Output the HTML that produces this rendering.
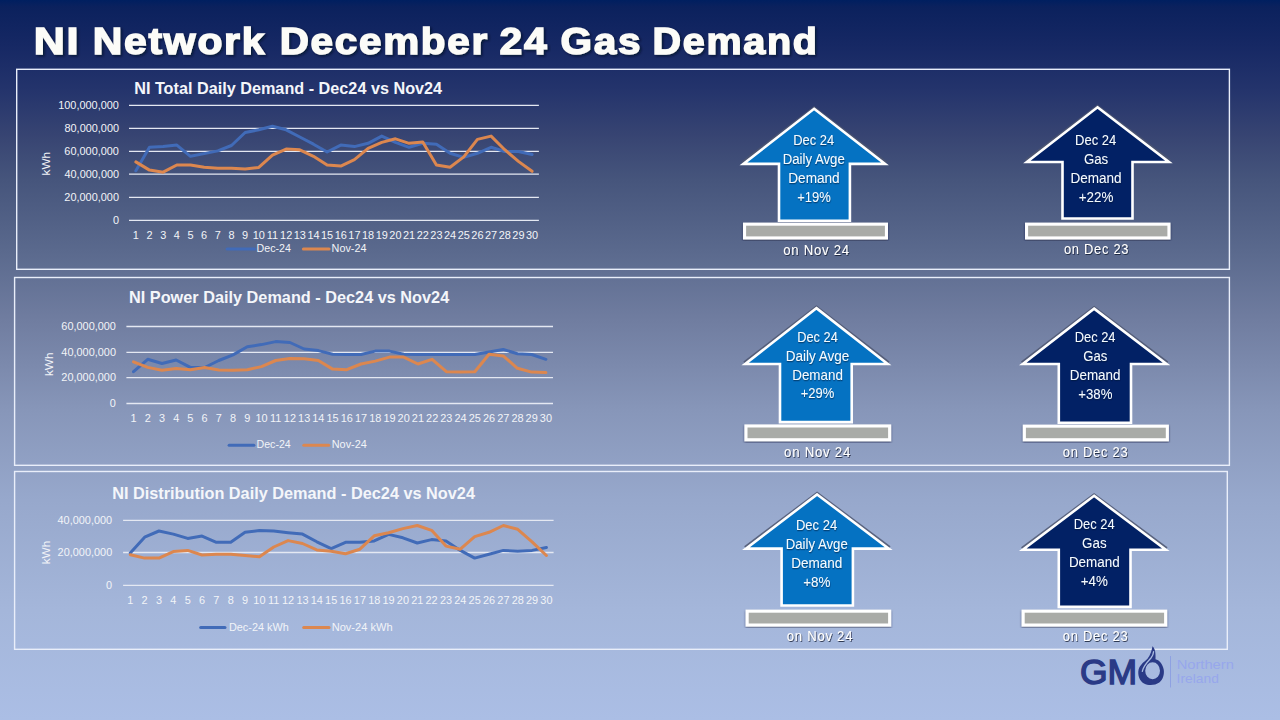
<!DOCTYPE html>
<html><head><meta charset="utf-8">
<style>
html,body{margin:0;padding:0;}
body{width:1280px;height:720px;overflow:hidden;position:relative;background:linear-gradient(to bottom,rgb(0,31,96) 0px,rgb(11,33,93) 7px,rgb(22,40,100) 45px,rgb(36,52,108) 90px,rgb(55,68,114) 135px,rgb(70,85,124) 180px,rgb(90,105,141) 250px,rgb(112,125,160) 320px,rgb(135,150,185) 410px,rgb(151,168,204) 500px,rgb(164,182,218) 610px,rgb(171,190,229) 720px);font-family:"Liberation Sans",sans-serif;}
svg{position:absolute;left:0;top:0;}
text{font-family:"Liberation Sans",sans-serif;}
.ax{font-size:10.5px;fill:#f2f4f8;}
.ax2{font-size:11.8px;fill:#f2f4f8;}
.lg{font-size:11.6px;fill:#f2f4f8;}
.ct{font-size:16.7px;font-weight:bold;fill:#f4f6fa;}
.ar{font-size:15.2px;fill:#f4faff;filter:url(#ash);}
.on{font-size:13.8px;letter-spacing:0.8px;fill:#ffffff;filter:url(#osh);}
.tt{font-size:36.6px;letter-spacing:1.6px;font-weight:bold;fill:#fcfcf8;stroke:#fcfcf8;stroke-width:1.4px;filter:url(#tsh);}
.gm{font-size:35.6px;fill:#2a3a86;stroke:#2a3a86;stroke-width:1.4px;}
.ni{font-size:13.6px;fill:#97a7ec;}

</style></head>
<body>
<svg width="1280" height="720" viewBox="0 0 1280 720">
<defs>
<filter id="sh" x="-10%" y="-10%" width="120%" height="130%"><feDropShadow dx="0" dy="1.2" stdDeviation="0.9" flood-color="#0a1030" flood-opacity="0.6"/></filter>
<filter id="tsh" x="-5%" y="-20%" width="110%" height="150%"><feDropShadow dx="1.5" dy="1.5" stdDeviation="1" flood-color="#000820" flood-opacity="0.7"/></filter>
<filter id="ash" x="-10%" y="-20%" width="120%" height="150%"><feDropShadow dx="0.4" dy="1.2" stdDeviation="0.6" flood-color="#001030" flood-opacity="0.55"/></filter>
<filter id="osh" x="-10%" y="-20%" width="120%" height="150%"><feDropShadow dx="0.8" dy="1" stdDeviation="0.5" flood-color="#101830" flood-opacity="0.8"/></filter>
</defs>
<rect x="16.7" y="69.3" width="1212.7" height="200" fill="none" stroke="#e9eefa" stroke-width="1.4"/>
<rect x="14.6" y="277.5" width="1214.8" height="187.8" fill="none" stroke="#e9eefa" stroke-width="1.4"/>
<rect x="14.6" y="471.5" width="1212.7" height="177.8" fill="none" stroke="#e9eefa" stroke-width="1.4"/>
<line x1="129" y1="105.3" x2="538.9" y2="105.3" stroke="#e4e8f2" stroke-width="1.3"/>
<line x1="129" y1="128.3" x2="538.9" y2="128.3" stroke="#e4e8f2" stroke-width="1.3"/>
<line x1="129" y1="151.3" x2="538.9" y2="151.3" stroke="#e4e8f2" stroke-width="1.3"/>
<line x1="129" y1="174.2" x2="538.9" y2="174.2" stroke="#e4e8f2" stroke-width="1.3"/>
<line x1="129" y1="197.3" x2="538.9" y2="197.3" stroke="#e4e8f2" stroke-width="1.3"/>
<line x1="129" y1="220.3" x2="538.9" y2="220.3" stroke="#e4e8f2" stroke-width="1.3"/>
<polyline points="135.83,170.8 149.5,147.3 163.16,146.6 176.82,145.1 190.48,156.3 204.15,153.6 217.81,150.9 231.47,145.5 245.14,132.5 258.8,129.8 272.46,126.2 286.13,129.8 299.79,137 313.45,144.2 327.12,152 340.78,145.1 354.44,146.6 368.11,143.3 381.77,136.1 395.44,142.4 409.1,147.3 422.76,143.3 436.42,144.2 450.09,153.3 463.75,157.4 477.41,153.3 491.08,147.3 504.74,151.5 518.4,151.5 532.07,154.5" fill="none" stroke="#416bb8" stroke-width="3" stroke-linejoin="round" stroke-linecap="round"/>
<polyline points="135.83,161.9 149.5,170.1 163.16,172.2 176.82,165 190.48,165 204.15,167.2 217.81,168.3 231.47,168.3 245.14,169 258.8,167.4 272.46,155.1 286.13,149.1 299.79,149.8 313.45,156.3 327.12,165 340.78,166.1 354.44,159.6 368.11,148.4 381.77,142.4 395.44,138.8 409.1,143.3 422.76,141.9 436.42,165 450.09,167.2 463.75,156.9 477.41,139.4 491.08,136.1 504.74,149.7 518.4,161.4 532.07,171.3" fill="none" stroke="#dc874f" stroke-width="3" stroke-linejoin="round" stroke-linecap="round"/>
<text transform="translate(50,163.7) rotate(-90)" class="ax2" text-anchor="middle">kWh</text>
<line x1="227.1" y1="248.9" x2="254.7" y2="248.9" stroke="#416bb8" stroke-width="3" stroke-linecap="round"/>
<line x1="303.4" y1="248.9" x2="329.1" y2="248.9" stroke="#dc874f" stroke-width="3" stroke-linecap="round"/>
<line x1="126.4" y1="326.5" x2="553" y2="326.5" stroke="#e4e8f2" stroke-width="1.3"/>
<line x1="126.4" y1="352.3" x2="553" y2="352.3" stroke="#e4e8f2" stroke-width="1.3"/>
<line x1="126.4" y1="377.6" x2="553" y2="377.6" stroke="#e4e8f2" stroke-width="1.3"/>
<line x1="126.4" y1="403.5" x2="553" y2="403.5" stroke="#e4e8f2" stroke-width="1.3"/>
<polyline points="133.51,371.7 147.73,359.3 161.95,363.5 176.17,360 190.39,367.4 204.61,367.5 218.83,360.5 233.05,354.9 247.27,346.8 261.49,344.6 275.71,341.6 289.93,342.5 304.15,349 318.37,350.6 332.59,354.2 346.81,354.5 361.03,354.5 375.25,351.1 389.47,351.1 403.69,354.2 417.91,354.5 432.13,354.5 446.35,354.5 460.57,354.5 474.79,354.5 489.01,352 503.23,349.4 517.45,353.7 531.67,354.5 545.89,359.3" fill="none" stroke="#416bb8" stroke-width="3" stroke-linejoin="round" stroke-linecap="round"/>
<polyline points="133.51,361.8 147.73,367.4 161.95,370.3 176.17,368.6 190.39,369.7 204.61,367.4 218.83,370 233.05,370.3 247.27,369.7 261.49,366.6 275.71,360.5 289.93,358.5 304.15,358.8 318.37,360.5 332.59,369.1 346.81,369.7 361.03,364 375.25,361.1 389.47,357.1 403.69,357.1 417.91,364 432.13,359.3 446.35,371.7 460.57,372.1 474.79,371.7 489.01,354.2 503.23,355.9 517.45,368.3 531.67,372.1 545.89,372.6" fill="none" stroke="#dc874f" stroke-width="3" stroke-linejoin="round" stroke-linecap="round"/>
<text transform="translate(53.3,364.3) rotate(-90)" class="ax2" text-anchor="middle">kWh</text>
<line x1="229.1" y1="445.2" x2="253.9" y2="445.2" stroke="#416bb8" stroke-width="3" stroke-linecap="round"/>
<line x1="303.8" y1="445.2" x2="328.7" y2="445.2" stroke="#dc874f" stroke-width="3" stroke-linecap="round"/>
<line x1="123.1" y1="520.3" x2="553.6" y2="520.3" stroke="#e4e8f2" stroke-width="1.3"/>
<line x1="123.1" y1="552.5" x2="553.6" y2="552.5" stroke="#e4e8f2" stroke-width="1.3"/>
<line x1="123.1" y1="585.4" x2="553.6" y2="585.4" stroke="#e4e8f2" stroke-width="1.3"/>
<polyline points="130.28,553 144.62,537.2 158.97,531 173.32,534.1 187.68,538.4 202.02,536.1 216.38,542.3 230.72,542.3 245.07,532.3 259.42,530.6 273.77,531.1 288.12,532.7 302.48,534.1 316.82,541.8 331.17,548.7 345.52,542.3 359.88,542.3 374.23,540.9 388.57,534.4 402.92,537.8 417.27,543 431.62,539.6 445.98,540.9 460.32,550.4 474.67,558.1 489.02,554.3 503.38,550.4 517.73,551.3 532.07,550.4 546.42,547.5" fill="none" stroke="#416bb8" stroke-width="3" stroke-linejoin="round" stroke-linecap="round"/>
<polyline points="130.28,554.7 144.62,558.1 158.97,558.1 173.32,551.6 187.68,550.4 202.02,555 216.38,554.3 230.72,554.3 245.07,555.5 259.42,556.8 273.77,547 288.12,540.6 302.48,543.5 316.82,549.9 331.17,551.3 345.52,553.8 359.88,549.2 374.23,535.8 388.57,532.7 402.92,528.6 417.27,525.5 431.62,530.3 445.98,546.1 460.32,549.2 474.67,536.6 489.02,532.3 503.38,525.5 517.73,529.3 532.07,541.8 546.42,555.5" fill="none" stroke="#dc874f" stroke-width="3" stroke-linejoin="round" stroke-linecap="round"/>
<text transform="translate(50.2,552.5) rotate(-90)" class="ax2" text-anchor="middle">kWh</text>
<line x1="200.7" y1="627.6" x2="225" y2="627.6" stroke="#416bb8" stroke-width="3" stroke-linecap="round"/>
<line x1="303.7" y1="627.6" x2="329" y2="627.6" stroke="#dc874f" stroke-width="3" stroke-linecap="round"/>
<path d="M742.92,163.3 L814.1,108.82 L885.48,163.3" fill="none" stroke="#4e5670" stroke-opacity="0.85" stroke-width="4.6" stroke-linejoin="miter"/>
<path d="M814.1,108.82 L885.08,163.9 L849.9,163.9 L849.9,220.7 L779,220.7 L779,163.9 L743.32,163.9 Z" fill="#0572c2" stroke="#ffffff" stroke-width="2.6" stroke-linejoin="miter"/>
<rect x="744.55" y="224.15" width="141.9" height="13.8" fill="#a9aba7" stroke="#ffffff" stroke-width="3.1" filter="url(#sh)"/>
<path d="M1026.52,161.4 L1097.5,107.32 L1169.28,161.4" fill="none" stroke="#4e5670" stroke-opacity="0.85" stroke-width="4.6" stroke-linejoin="miter"/>
<path d="M1097.5,107.32 L1168.88,162 L1132.5,162 L1132.5,218.5 L1062.5,218.5 L1062.5,162 L1026.92,162 Z" fill="#022165" stroke="#ffffff" stroke-width="2.6" stroke-linejoin="miter"/>
<rect x="1026.55" y="224.15" width="142.4" height="13.8" fill="#a9aba7" stroke="#ffffff" stroke-width="3.1" filter="url(#sh)"/>
<path d="M744.82,363.4 L816.4,308.12 L888.08,363.4" fill="none" stroke="#4e5670" stroke-opacity="0.85" stroke-width="4.6" stroke-linejoin="miter"/>
<path d="M816.4,308.12 L887.68,364 L851.7,364 L851.7,422.1 L780,422.1 L780,364 L745.22,364 Z" fill="#0572c2" stroke="#ffffff" stroke-width="2.6" stroke-linejoin="miter"/>
<rect x="745.95" y="425.95" width="143.7" height="13.8" fill="#a9aba7" stroke="#ffffff" stroke-width="3.1" filter="url(#sh)"/>
<path d="M1022.42,363.4 L1094.1,308.62 L1166.88,363.4" fill="none" stroke="#4e5670" stroke-opacity="0.85" stroke-width="4.6" stroke-linejoin="miter"/>
<path d="M1094.1,308.62 L1166.48,364 L1131,364 L1131,422.8 L1058.8,422.8 L1058.8,364 L1022.82,364 Z" fill="#022165" stroke="#ffffff" stroke-width="2.6" stroke-linejoin="miter"/>
<rect x="1024.35" y="426.15" width="143" height="13.6" fill="#a9aba7" stroke="#ffffff" stroke-width="3.1" filter="url(#sh)"/>
<path d="M745.52,548 L817.1,494.42 L889.18,548" fill="none" stroke="#4e5670" stroke-opacity="0.85" stroke-width="4.6" stroke-linejoin="miter"/>
<path d="M817.1,494.42 L888.78,548.6 L852.9,548.6 L852.9,605.5 L781.6,605.5 L781.6,548.6 L745.92,548.6 Z" fill="#0572c2" stroke="#ffffff" stroke-width="2.6" stroke-linejoin="miter"/>
<rect x="747.15" y="611.15" width="142.5" height="13.9" fill="#a9aba7" stroke="#ffffff" stroke-width="3.1" filter="url(#sh)"/>
<path d="M1022.42,549.2 L1094.1,495.82 L1166.18,549.2" fill="none" stroke="#4e5670" stroke-opacity="0.85" stroke-width="4.6" stroke-linejoin="miter"/>
<path d="M1094.1,495.82 L1165.78,549.8 L1130.5,549.8 L1130.5,606.9 L1058.8,606.9 L1058.8,549.8 L1022.82,549.8 Z" fill="#022165" stroke="#ffffff" stroke-width="2.6" stroke-linejoin="miter"/>
<rect x="1023.15" y="611.15" width="142.5" height="13.9" fill="#a9aba7" stroke="#ffffff" stroke-width="3.1" filter="url(#sh)"/>
<path fill-rule="evenodd" fill="#2a3a86" d="M1152.5,646.3 C1151.8,650 1150.5,655 1147.5,658.8 C1144,662 1140,665 1138.6,669.5 C1137.4,675 1139.5,681 1144,683.5 C1148.5,685.8 1155,685.5 1159.3,682.5 C1163,679.5 1164.5,674.5 1163.7,669.5 C1162.8,664 1159,660 1155.5,659.3 C1155.6,656 1155.6,652 1154.6,649.5 C1154,648 1153.2,646.8 1152.5,646.3 Z M1145.2,670.8 A7.4,8.5 0 1,0 1160,670.8 A7.4,8.5 0 1,0 1145.2,670.8 Z"/>
<path d="M1142.3,671.3 C1143.5,665.5 1148.3,661 1151,658 C1152.6,656 1153.4,653.8 1153.6,651.6" fill="none" stroke="#a9bbe0" stroke-width="1.3" stroke-linecap="round"/>
<line x1="1170.5" y1="656" x2="1170.5" y2="687.5" stroke="#8ea1e2" stroke-width="1"/>
<text class="tt" text-anchor="middle" transform="translate(57.03,54.1) scale(1.1758,1)">NI</text>
<text class="tt" text-anchor="middle" transform="translate(179.5,54.1) scale(1.1159,1)">Network</text>
<text class="tt" text-anchor="middle" transform="translate(384.26,54.1) scale(1.1029,1)">December</text>
<text class="tt" text-anchor="middle" transform="translate(523.97,54.1) scale(1.1168,1)">24</text>
<text class="tt" text-anchor="middle" transform="translate(601.4,54.1) scale(1.1042,1)">Gas</text>
<text class="tt" text-anchor="middle" transform="translate(735.54,54.1) scale(1.0779,1)">Demand</text>
<text class="ax" text-anchor="end" transform="translate(118.9,109) scale(1.0400,1)">100,000,000</text>
<text class="ax" text-anchor="end" transform="translate(119.08,132) scale(1.0400,1)">80,000,000</text>
<text class="ax" text-anchor="end" transform="translate(118.95,155) scale(1.0400,1)">60,000,000</text>
<text class="ax" text-anchor="end" transform="translate(119.09,177.9) scale(1.0400,1)">40,000,000</text>
<text class="ax" text-anchor="end" transform="translate(118.97,201) scale(1.0400,1)">20,000,000</text>
<text class="ax" text-anchor="end" transform="translate(118.97,224) scale(1.0400,1)">0</text>
<text class="ax" text-anchor="middle" transform="translate(135.83,238.7) scale(1.0400,1)">1</text>
<text class="ax" text-anchor="middle" transform="translate(149.5,238.7) scale(1.0400,1)">2</text>
<text class="ax" text-anchor="middle" transform="translate(163.16,238.7) scale(1.0400,1)">3</text>
<text class="ax" text-anchor="middle" transform="translate(176.82,238.7) scale(1.0400,1)">4</text>
<text class="ax" text-anchor="middle" transform="translate(190.48,238.7) scale(1.0400,1)">5</text>
<text class="ax" text-anchor="middle" transform="translate(204.15,238.7) scale(1.0400,1)">6</text>
<text class="ax" text-anchor="middle" transform="translate(217.81,238.7) scale(1.0400,1)">7</text>
<text class="ax" text-anchor="middle" transform="translate(231.47,238.7) scale(1.0400,1)">8</text>
<text class="ax" text-anchor="middle" transform="translate(245.14,238.7) scale(1.0400,1)">9</text>
<text class="ax" text-anchor="middle" transform="translate(258.8,238.7) scale(1.0400,1)">10</text>
<text class="ax" text-anchor="middle" transform="translate(272.46,238.7) scale(1.0400,1)">11</text>
<text class="ax" text-anchor="middle" transform="translate(286.13,238.7) scale(1.0400,1)">12</text>
<text class="ax" text-anchor="middle" transform="translate(299.79,238.7) scale(1.0400,1)">13</text>
<text class="ax" text-anchor="middle" transform="translate(313.45,238.7) scale(1.0400,1)">14</text>
<text class="ax" text-anchor="middle" transform="translate(327.12,238.7) scale(1.0400,1)">15</text>
<text class="ax" text-anchor="middle" transform="translate(340.78,238.7) scale(1.0400,1)">16</text>
<text class="ax" text-anchor="middle" transform="translate(354.44,238.7) scale(1.0400,1)">17</text>
<text class="ax" text-anchor="middle" transform="translate(368.11,238.7) scale(1.0400,1)">18</text>
<text class="ax" text-anchor="middle" transform="translate(381.77,238.7) scale(1.0400,1)">19</text>
<text class="ax" text-anchor="middle" transform="translate(395.44,238.7) scale(1.0400,1)">20</text>
<text class="ax" text-anchor="middle" transform="translate(409.1,238.7) scale(1.0400,1)">21</text>
<text class="ax" text-anchor="middle" transform="translate(422.76,238.7) scale(1.0400,1)">22</text>
<text class="ax" text-anchor="middle" transform="translate(436.42,238.7) scale(1.0400,1)">23</text>
<text class="ax" text-anchor="middle" transform="translate(450.09,238.7) scale(1.0400,1)">24</text>
<text class="ax" text-anchor="middle" transform="translate(463.75,238.7) scale(1.0400,1)">25</text>
<text class="ax" text-anchor="middle" transform="translate(477.41,238.7) scale(1.0400,1)">26</text>
<text class="ax" text-anchor="middle" transform="translate(491.08,238.7) scale(1.0400,1)">27</text>
<text class="ax" text-anchor="middle" transform="translate(504.74,238.7) scale(1.0400,1)">28</text>
<text class="ax" text-anchor="middle" transform="translate(518.4,238.7) scale(1.0400,1)">29</text>
<text class="ax" text-anchor="middle" transform="translate(532.07,238.7) scale(1.0400,1)">30</text>
<text class="ct" text-anchor="middle" transform="translate(288.15,94) scale(0.9721,1)">NI Total Daily Demand - Dec24 vs Nov24</text>
<text class="lg" text-anchor="middle" transform="translate(273.72,251.6) scale(0.9169,1)">Dec-24</text>
<text class="lg" text-anchor="middle" transform="translate(349,251.6) scale(0.9331,1)">Nov-24</text>
<text class="ax" text-anchor="end" transform="translate(115.95,330.2) scale(1.0400,1)">60,000,000</text>
<text class="ax" text-anchor="end" transform="translate(115.99,356) scale(1.0400,1)">40,000,000</text>
<text class="ax" text-anchor="end" transform="translate(115.97,381.3) scale(1.0400,1)">20,000,000</text>
<text class="ax" text-anchor="end" transform="translate(115.88,407.2) scale(1.0400,1)">0</text>
<text class="ax" text-anchor="middle" transform="translate(133.51,421.9) scale(1.0400,1)">1</text>
<text class="ax" text-anchor="middle" transform="translate(147.73,421.9) scale(1.0400,1)">2</text>
<text class="ax" text-anchor="middle" transform="translate(161.95,421.9) scale(1.0400,1)">3</text>
<text class="ax" text-anchor="middle" transform="translate(176.17,421.9) scale(1.0400,1)">4</text>
<text class="ax" text-anchor="middle" transform="translate(190.39,421.9) scale(1.0400,1)">5</text>
<text class="ax" text-anchor="middle" transform="translate(204.61,421.9) scale(1.0400,1)">6</text>
<text class="ax" text-anchor="middle" transform="translate(218.83,421.9) scale(1.0400,1)">7</text>
<text class="ax" text-anchor="middle" transform="translate(233.05,421.9) scale(1.0400,1)">8</text>
<text class="ax" text-anchor="middle" transform="translate(247.27,421.9) scale(1.0400,1)">9</text>
<text class="ax" text-anchor="middle" transform="translate(261.49,421.9) scale(1.0400,1)">10</text>
<text class="ax" text-anchor="middle" transform="translate(275.71,421.9) scale(1.0400,1)">11</text>
<text class="ax" text-anchor="middle" transform="translate(289.93,421.9) scale(1.0400,1)">12</text>
<text class="ax" text-anchor="middle" transform="translate(304.15,421.9) scale(1.0400,1)">13</text>
<text class="ax" text-anchor="middle" transform="translate(318.37,421.9) scale(1.0400,1)">14</text>
<text class="ax" text-anchor="middle" transform="translate(332.59,421.9) scale(1.0400,1)">15</text>
<text class="ax" text-anchor="middle" transform="translate(346.81,421.9) scale(1.0400,1)">16</text>
<text class="ax" text-anchor="middle" transform="translate(361.03,421.9) scale(1.0400,1)">17</text>
<text class="ax" text-anchor="middle" transform="translate(375.25,421.9) scale(1.0400,1)">18</text>
<text class="ax" text-anchor="middle" transform="translate(389.47,421.9) scale(1.0400,1)">19</text>
<text class="ax" text-anchor="middle" transform="translate(403.69,421.9) scale(1.0400,1)">20</text>
<text class="ax" text-anchor="middle" transform="translate(417.91,421.9) scale(1.0400,1)">21</text>
<text class="ax" text-anchor="middle" transform="translate(432.13,421.9) scale(1.0400,1)">22</text>
<text class="ax" text-anchor="middle" transform="translate(446.35,421.9) scale(1.0400,1)">23</text>
<text class="ax" text-anchor="middle" transform="translate(460.57,421.9) scale(1.0400,1)">24</text>
<text class="ax" text-anchor="middle" transform="translate(474.79,421.9) scale(1.0400,1)">25</text>
<text class="ax" text-anchor="middle" transform="translate(489.01,421.9) scale(1.0400,1)">26</text>
<text class="ax" text-anchor="middle" transform="translate(503.23,421.9) scale(1.0400,1)">27</text>
<text class="ax" text-anchor="middle" transform="translate(517.45,421.9) scale(1.0400,1)">28</text>
<text class="ax" text-anchor="middle" transform="translate(531.67,421.9) scale(1.0400,1)">29</text>
<text class="ax" text-anchor="middle" transform="translate(545.89,421.9) scale(1.0400,1)">30</text>
<text class="ct" text-anchor="middle" transform="translate(289.1,302.6) scale(0.9750,1)">NI Power Daily Demand - Dec24 vs Nov24</text>
<text class="lg" text-anchor="middle" transform="translate(273.65,448) scale(0.9145,1)">Dec-24</text>
<text class="lg" text-anchor="middle" transform="translate(349.31,448) scale(0.9407,1)">Nov-24</text>
<text class="ax" text-anchor="end" transform="translate(112.13,524) scale(1.0400,1)">40,000,000</text>
<text class="ax" text-anchor="end" transform="translate(112.23,556.2) scale(1.0400,1)">20,000,000</text>
<text class="ax" text-anchor="end" transform="translate(112.17,589.1) scale(1.0400,1)">0</text>
<text class="ax" text-anchor="middle" transform="translate(130.28,603.8) scale(1.0400,1)">1</text>
<text class="ax" text-anchor="middle" transform="translate(144.62,603.8) scale(1.0400,1)">2</text>
<text class="ax" text-anchor="middle" transform="translate(158.97,603.8) scale(1.0400,1)">3</text>
<text class="ax" text-anchor="middle" transform="translate(173.32,603.8) scale(1.0400,1)">4</text>
<text class="ax" text-anchor="middle" transform="translate(187.68,603.8) scale(1.0400,1)">5</text>
<text class="ax" text-anchor="middle" transform="translate(202.02,603.8) scale(1.0400,1)">6</text>
<text class="ax" text-anchor="middle" transform="translate(216.38,603.8) scale(1.0400,1)">7</text>
<text class="ax" text-anchor="middle" transform="translate(230.72,603.8) scale(1.0400,1)">8</text>
<text class="ax" text-anchor="middle" transform="translate(245.07,603.8) scale(1.0400,1)">9</text>
<text class="ax" text-anchor="middle" transform="translate(259.42,603.8) scale(1.0400,1)">10</text>
<text class="ax" text-anchor="middle" transform="translate(273.77,603.8) scale(1.0400,1)">11</text>
<text class="ax" text-anchor="middle" transform="translate(288.12,603.8) scale(1.0400,1)">12</text>
<text class="ax" text-anchor="middle" transform="translate(302.48,603.8) scale(1.0400,1)">13</text>
<text class="ax" text-anchor="middle" transform="translate(316.82,603.8) scale(1.0400,1)">14</text>
<text class="ax" text-anchor="middle" transform="translate(331.17,603.8) scale(1.0400,1)">15</text>
<text class="ax" text-anchor="middle" transform="translate(345.52,603.8) scale(1.0400,1)">16</text>
<text class="ax" text-anchor="middle" transform="translate(359.88,603.8) scale(1.0400,1)">17</text>
<text class="ax" text-anchor="middle" transform="translate(374.23,603.8) scale(1.0400,1)">18</text>
<text class="ax" text-anchor="middle" transform="translate(388.57,603.8) scale(1.0400,1)">19</text>
<text class="ax" text-anchor="middle" transform="translate(402.92,603.8) scale(1.0400,1)">20</text>
<text class="ax" text-anchor="middle" transform="translate(417.27,603.8) scale(1.0400,1)">21</text>
<text class="ax" text-anchor="middle" transform="translate(431.62,603.8) scale(1.0400,1)">22</text>
<text class="ax" text-anchor="middle" transform="translate(445.98,603.8) scale(1.0400,1)">23</text>
<text class="ax" text-anchor="middle" transform="translate(460.32,603.8) scale(1.0400,1)">24</text>
<text class="ax" text-anchor="middle" transform="translate(474.67,603.8) scale(1.0400,1)">25</text>
<text class="ax" text-anchor="middle" transform="translate(489.02,603.8) scale(1.0400,1)">26</text>
<text class="ax" text-anchor="middle" transform="translate(503.38,603.8) scale(1.0400,1)">27</text>
<text class="ax" text-anchor="middle" transform="translate(517.73,603.8) scale(1.0400,1)">28</text>
<text class="ax" text-anchor="middle" transform="translate(532.07,603.8) scale(1.0400,1)">29</text>
<text class="ax" text-anchor="middle" transform="translate(546.42,603.8) scale(1.0400,1)">30</text>
<text class="ct" text-anchor="middle" transform="translate(293.58,499.4) scale(0.9757,1)">NI Distribution Daily Demand - Dec24 vs Nov24</text>
<text class="lg" text-anchor="middle" transform="translate(258.87,631.1) scale(0.9374,1)">Dec-24 kWh</text>
<text class="lg" text-anchor="middle" transform="translate(362.12,631.1) scale(0.9545,1)">Nov-24 kWh</text>
<text class="ar" text-anchor="middle" transform="translate(813.61,144.8) scale(0.8504,1)">Dec 24</text>
<text class="ar" text-anchor="middle" transform="translate(813.76,163.8) scale(0.8676,1)">Daily Avge</text>
<text class="ar" text-anchor="middle" transform="translate(813.96,182.8) scale(0.8952,1)">Demand</text>
<text class="ar" text-anchor="middle" transform="translate(813.9,201.8) scale(0.8537,1)">+19%</text>
<text class="on" text-anchor="middle" transform="translate(816.58,255) scale(0.9516,1)">on Nov 24</text>
<text class="ar" text-anchor="middle" transform="translate(1095.69,144.7) scale(0.8587,1)">Dec 24</text>
<text class="ar" text-anchor="middle" transform="translate(1096.03,163.7) scale(0.8731,1)">Gas</text>
<text class="ar" text-anchor="middle" transform="translate(1096.09,182.7) scale(0.8896,1)">Demand</text>
<text class="ar" text-anchor="middle" transform="translate(1096.08,201.7) scale(0.8829,1)">+22%</text>
<text class="on" text-anchor="middle" transform="translate(1096.55,253.8) scale(0.9328,1)">on Dec 23</text>
<text class="ar" text-anchor="middle" transform="translate(817.51,341.7) scale(0.8424,1)">Dec 24</text>
<text class="ar" text-anchor="middle" transform="translate(817.56,360.6) scale(0.8906,1)">Daily Avge</text>
<text class="ar" text-anchor="middle" transform="translate(817.56,379.5) scale(0.8818,1)">Demand</text>
<text class="ar" text-anchor="middle" transform="translate(817.57,398.4) scale(0.8546,1)">+29%</text>
<text class="on" text-anchor="middle" transform="translate(817.55,456.7) scale(0.9561,1)">on Nov 24</text>
<text class="ar" text-anchor="middle" transform="translate(1095.07,342.4) scale(0.8490,1)">Dec 24</text>
<text class="ar" text-anchor="middle" transform="translate(1095.37,361.3) scale(0.8645,1)">Gas</text>
<text class="ar" text-anchor="middle" transform="translate(1095.14,380.2) scale(0.8824,1)">Demand</text>
<text class="ar" text-anchor="middle" transform="translate(1095.39,399.1) scale(0.8695,1)">+38%</text>
<text class="on" text-anchor="middle" transform="translate(1095.56,456.7) scale(0.9353,1)">on Dec 23</text>
<text class="ar" text-anchor="middle" transform="translate(816.53,529.8) scale(0.8558,1)">Dec 24</text>
<text class="ar" text-anchor="middle" transform="translate(816.71,548.7) scale(0.8665,1)">Daily Avge</text>
<text class="ar" text-anchor="middle" transform="translate(816.81,567.6) scale(0.8912,1)">Demand</text>
<text class="ar" text-anchor="middle" transform="translate(816.83,586.5) scale(0.8832,1)">+8%</text>
<text class="on" text-anchor="middle" transform="translate(819.99,641.2) scale(0.9471,1)">on Nov 24</text>
<text class="ar" text-anchor="middle" transform="translate(1094.12,529.4) scale(0.8500,1)">Dec 24</text>
<text class="ar" text-anchor="middle" transform="translate(1094.31,548.4) scale(0.8785,1)">Gas</text>
<text class="ar" text-anchor="middle" transform="translate(1094.29,567.4) scale(0.8835,1)">Demand</text>
<text class="ar" text-anchor="middle" transform="translate(1094.33,586.4) scale(0.8782,1)">+4%</text>
<text class="on" text-anchor="middle" transform="translate(1095.56,641.2) scale(0.9353,1)">on Dec 23</text>
<text class="gm" text-anchor="middle" transform="translate(1108.48,684) scale(0.9982,1)">GM</text>
<text class="ni" text-anchor="middle" transform="translate(1205.25,668.75) scale(1.0836,1)">Northern</text>
<text class="ni" text-anchor="middle" transform="translate(1197.71,683.1) scale(1.0159,1)">Ireland</text>
</svg>
</body></html>
